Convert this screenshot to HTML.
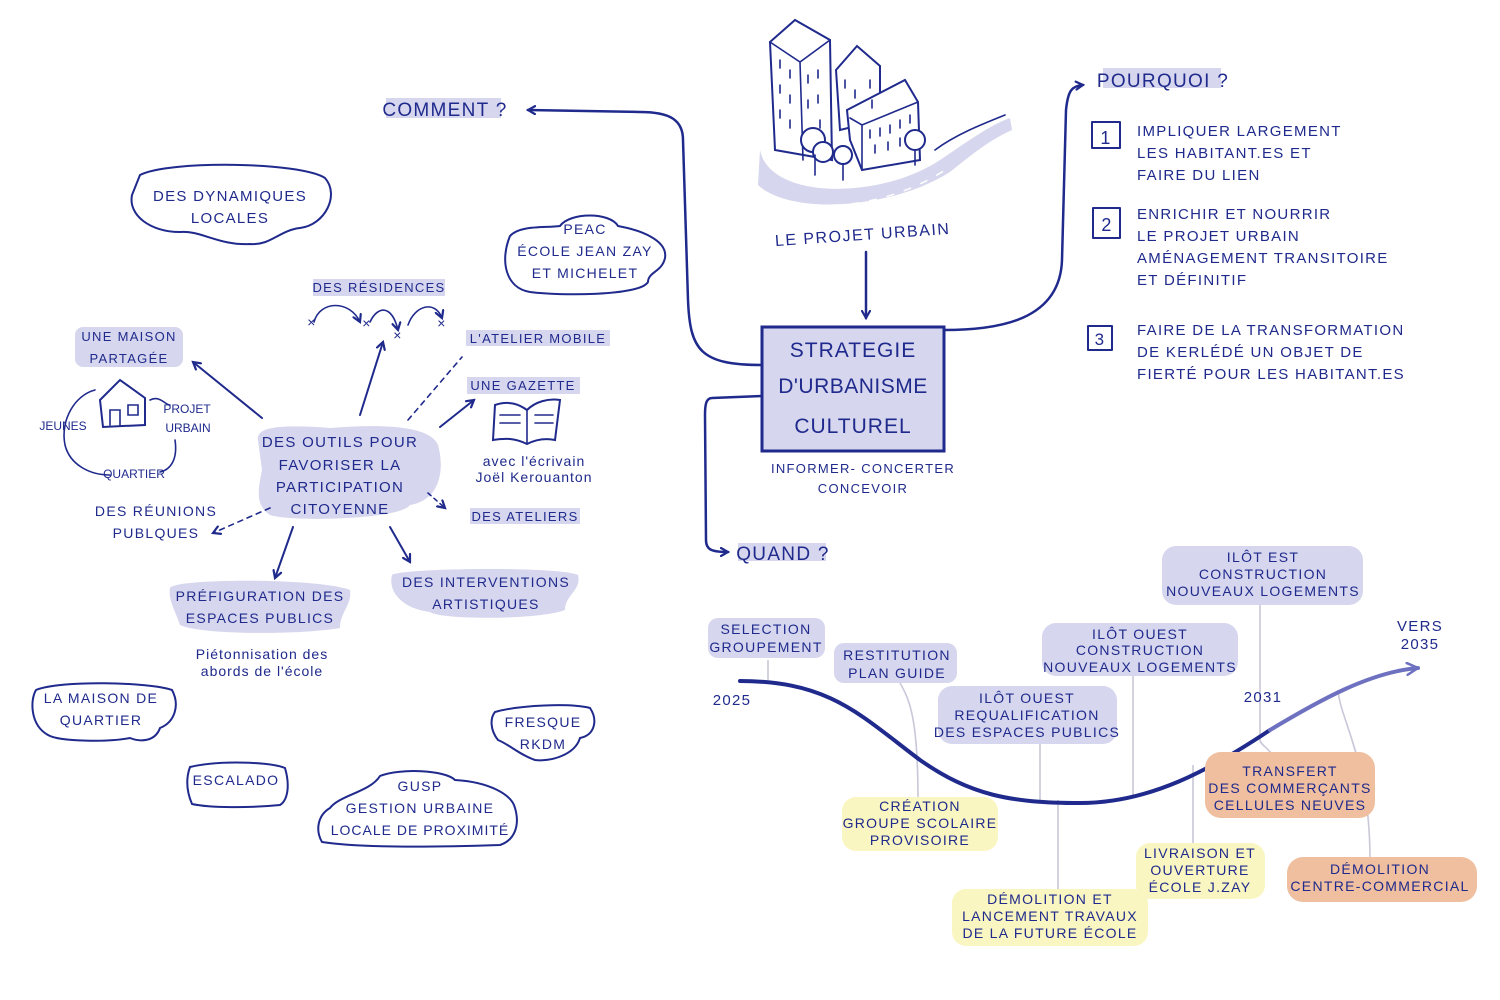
<!DOCTYPE html>
<html><head><meta charset="utf-8"><style>
html,body{margin:0;padding:0;background:#fff;}
svg{display:block}
text{font-family:"Liberation Sans",sans-serif;fill:#1f2a8c;letter-spacing:1.3px;text-anchor:middle;}
.s{font-size:14px}
.m{font-size:15px}
.ln{fill:none;stroke:#1f2a8c;stroke-width:2.5;stroke-linecap:round;stroke-linejoin:round}
.th{fill:none;stroke:#1f2a8c;stroke-width:1.6;stroke-linecap:round}
.lav{fill:#d6d6ee}
.yel{fill:#faf6c2}
.org{fill:#efbf9f}
.gr{stroke:#c8c8d8;stroke-width:1.6;fill:none}
.ob{fill:#fff;stroke:#1f2a8c;stroke-width:2}
</style></head><body>
<svg width="1500" height="1000" viewBox="0 0 1500 1000">
<defs>
<marker id="ah" markerWidth="10" markerHeight="10" refX="8" refY="5" orient="auto" markerUnits="userSpaceOnUse"><path d="M1,1 L8,5 L1,9" fill="none" stroke="#1f2a8c" stroke-width="2.2" stroke-linecap="round"/></marker>
<marker id="ah2" markerWidth="14" markerHeight="14" refX="12" refY="7" orient="auto" markerUnits="userSpaceOnUse"><path d="M1,1 L12,7 L1,13" fill="none" stroke="#6d71c0" stroke-width="2.5" stroke-linecap="round"/></marker>
</defs>

<!-- Buildings & road -->
<path d="M760,150 C770,200 880,200 940,160 C970,140 990,125 1010,118 L1012,130 C990,140 975,152 950,172 C890,210 790,215 758,185 Z" class="lav"/>
<path d="M935,150 C955,135 980,125 1005,115" class="th"/>
<path d="M780,200 C830,215 900,200 945,170" stroke="#fff" stroke-width="1.5" stroke-dasharray="8 10" fill="none"/>
<path d="M770,42 L795,20 L830,40 L832,160 L775,150 Z" class="ob"/>
<path d="M770,42 L800,62 L830,40 M800,62 L803,160" class="th"/>
<path d="M836,70 L857,46 L880,66 L880,120 L840,130 Z" class="ob"/>
<path d="M847,110 L905,80 L918,102 L920,160 L862,170 L850,140 Z" class="ob"/>
<path d="M850,118 L862,125 L918,102 M862,125 L862,170" class="th"/>
<g class="th">
<path d="M780,60 v8 M790,70 v8 M780,85 v8 M790,95 v8 M780,110 v8 M790,120 v8 M808,75 v8 M818,70 v8 M808,100 v8 M818,95 v8 M820,120 v8 M845,80 v8 M855,90 v8 M870,80 v8 M872,100 v8 M870,130 v8 M880,128 v8 M890,125 v8 M900,120 v8 M910,115 v8 M875,145 v8 M888,142 v8 M900,138 v8"/>
</g>
<circle cx="813" cy="140" r="12" class="ob"/><circle cx="823" cy="152" r="10" class="ob"/><circle cx="843" cy="155" r="9" class="ob"/><path d="M815,155 v20 M843,165 v15" class="th"/>
<circle cx="915" cy="140" r="10" class="ob"/><path d="M915,150 v15" class="th"/>
<text x="863" y="240" transform="rotate(-4 863 240)" style="font-size:16px;letter-spacing:1.5px">LE PROJET URBAIN</text>
<path d="M866,252 L866,318" class="ln" marker-end="url(#ah)"/>

<!-- central box -->
<rect x="762" y="327" width="182" height="124" class="lav" stroke="#1f2a8c" stroke-width="3"/>
<text x="853" y="357" style="font-size:21px;letter-spacing:1px">STRATEGIE</text>
<text x="853" y="393" style="font-size:21px;letter-spacing:0.5px">D'URBANISME</text>
<text x="853" y="433" style="font-size:21px;letter-spacing:1px">CULTUREL</text>
<text x="863" y="473" class="s" style="font-size:13px">INFORMER- CONCERTER</text>
<text x="863" y="493" class="s" style="font-size:13px">CONCEVOIR</text>

<!-- COMMENT -->
<rect x="386" y="98" width="115" height="20" class="lav"/>
<text x="445" y="116" style="font-size:19px">COMMENT ?</text>
<path d="M762,365 C700,365 690,350 688,300 L683,140 C683,120 670,112 640,112 L528,110" class="ln" marker-end="url(#ah)"/>

<!-- POURQUOI -->
<rect x="1103" y="68" width="118" height="20" class="lav"/>
<text x="1163" y="87" style="font-size:19px">POURQUOI ?</text>
<path d="M944,330 C1000,330 1060,320 1062,260 L1066,110 C1068,90 1072,86 1083,85" class="ln" marker-end="url(#ah)"/>
<g class="ln" style="stroke-width:2">
<rect x="1092" y="122" width="28" height="26"/><rect x="1093" y="208" width="27" height="30"/><rect x="1088" y="326" width="24" height="24"/>
</g>
<text x="1106" y="144" style="font-size:18px">1</text>
<text x="1107" y="231" style="font-size:18px">2</text>
<text x="1100" y="345" style="font-size:17px">3</text>
<g class="m">
<text x="1137" y="136" style="text-anchor:start">IMPLIQUER LARGEMENT</text>
<text x="1137" y="158" style="text-anchor:start">LES HABITANT.ES ET</text>
<text x="1137" y="180" style="text-anchor:start">FAIRE DU LIEN</text>
<text x="1137" y="219" style="text-anchor:start">ENRICHIR ET NOURRIR</text>
<text x="1137" y="241" style="text-anchor:start">LE PROJET URBAIN</text>
<text x="1137" y="263" style="text-anchor:start">AMÉNAGEMENT TRANSITOIRE</text>
<text x="1137" y="285" style="text-anchor:start">ET DÉFINITIF</text>
<text x="1137" y="335" style="text-anchor:start">FAIRE DE LA TRANSFORMATION</text>
<text x="1137" y="357" style="text-anchor:start">DE KERLÉDÉ UN OBJET DE</text>
<text x="1137" y="379" style="text-anchor:start">FIERTÉ POUR LES HABITANT.ES</text>
</g>

<!-- QUAND -->
<path d="M762,396 L712,398 C706,398 705,405 705,415 L706,540 C706,550 712,552 728,552" class="ln" marker-end="url(#ah)"/>
<rect x="738" y="543" width="88" height="18" class="lav"/>
<text x="783" y="560" style="font-size:19px">QUAND ?</text>

<!-- timeline -->
<g class="gr">
<path d="M768,660 V680"/><path d="M900,683 C910,700 918,720 918,800"/>
<path d="M1040,744 V800"/><path d="M1133,676 V795"/><path d="M1260,605 V740 C1260,745 1270,748 1275,760"/>
<path d="M1058,800 V890"/><path d="M1193,765 V845"/><path d="M1338,690 C1340,720 1370,760 1370,860"/>
</g>
<path d="M740,681 C830,681 860,715 920,760 C970,795 1010,803 1080,803 C1150,803 1210,770 1270,730" class="ln" style="stroke-width:4"/>
<path d="M1270,730 C1320,700 1370,672 1418,668" fill="none" stroke="#6d71c0" stroke-width="4" stroke-linecap="round" marker-end="url(#ah2)"/>
<text x="732" y="705" class="m">2025</text>
<text x="1263" y="702" class="m">2031</text>
<text x="1420" y="631" class="m">VERS</text>
<text x="1420" y="649" class="m">2035</text>

<rect x="708" y="618" width="117" height="40" rx="10" class="lav"/>
<text x="766" y="634" class="s">SELECTION</text><text x="766" y="652" class="s">GROUPEMENT</text>
<rect x="834" y="643" width="123" height="40" rx="10" class="lav"/>
<text x="897" y="660" class="s">RESTITUTION</text><text x="897" y="678" class="s">PLAN GUIDE</text>
<rect x="938" y="686" width="179" height="58" rx="14" class="lav"/>
<text x="1027" y="703" class="s">ILÔT OUEST</text><text x="1027" y="720" class="s">REQUALIFICATION</text><text x="1027" y="737" class="s">DES ESPACES PUBLICS</text>
<rect x="1042" y="623" width="196" height="53" rx="14" class="lav"/>
<text x="1140" y="639" class="s">ILÔT OUEST</text><text x="1140" y="655" class="s">CONSTRUCTION</text><text x="1140" y="672" class="s">NOUVEAUX LOGEMENTS</text>
<rect x="1162" y="546" width="201" height="59" rx="14" class="lav"/>
<text x="1263" y="562" class="s">ILÔT EST</text><text x="1263" y="579" class="s">CONSTRUCTION</text><text x="1263" y="596" class="s">NOUVEAUX LOGEMENTS</text>

<rect x="842" y="797" width="156" height="54" rx="14" class="yel"/>
<text x="920" y="811" class="s">CRÉATION</text><text x="920" y="828" class="s">GROUPE SCOLAIRE</text><text x="920" y="845" class="s">PROVISOIRE</text>
<rect x="952" y="889" width="196" height="57" rx="14" class="yel"/>
<text x="1050" y="904" class="s">DÉMOLITION ET</text><text x="1050" y="921" class="s">LANCEMENT TRAVAUX</text><text x="1050" y="938" class="s">DE LA FUTURE ÉCOLE</text>
<rect x="1136" y="843" width="129" height="56" rx="14" class="yel"/>
<text x="1200" y="858" class="s">LIVRAISON ET</text><text x="1200" y="875" class="s">OUVERTURE</text><text x="1200" y="892" class="s">ÉCOLE J.ZAY</text>
<rect x="1205" y="752" width="170" height="66" rx="16" class="org"/>
<text x="1290" y="776" class="s">TRANSFERT</text><text x="1290" y="793" class="s">DES COMMERÇANTS</text><text x="1290" y="810" class="s">CELLULES NEUVES</text>
<rect x="1287" y="857" width="190" height="45" rx="16" class="org"/>
<text x="1380" y="874" class="s">DÉMOLITION</text><text x="1380" y="891" class="s">CENTRE-COMMERCIAL</text>

<!-- LEFT SIDE -->
<path d="M140,175 C170,160 300,162 325,178 C340,195 325,225 300,228 C280,230 270,246 250,244 C220,246 200,230 180,232 C150,232 128,215 132,195 Z" class="ob"/>
<text x="230" y="201" class="m">DES DYNAMIQUES</text><text x="230" y="223" class="m">LOCALES</text>

<path d="M510,236 C520,225 545,228 560,226 C570,212 610,212 618,226 C640,230 668,240 665,258 C662,272 648,272 648,282 C640,296 560,296 530,292 C505,288 500,260 510,236 Z" class="ob"/>
<text x="585" y="234" class="s">PEAC</text><text x="585" y="256" class="s">ÉCOLE JEAN ZAY</text><text x="585" y="278" class="s">ET MICHELET</text>

<rect x="313" y="279" width="132" height="17" class="lav"/>
<text x="379" y="292" class="s" style="font-size:13px">DES RÉSIDENCES</text>
<path d="M314,322 C320,300 350,300 360,322" class="th" marker-end="url(#ah)"/>
<path d="M370,322 C378,305 392,305 398,330" class="th" marker-end="url(#ah)"/>
<path d="M408,325 C415,305 435,300 442,318" class="th" marker-end="url(#ah)"/>
<text x="312" y="327" class="s">×</text><text x="367" y="328" class="s">×</text><text x="398" y="340" class="s">×</text><text x="442" y="328" class="s">×</text>

<rect x="466" y="330" width="144" height="16" class="lav"/>
<text x="538" y="343" class="s" style="font-size:13px">L'ATELIER MOBILE</text>
<rect x="467" y="377" width="113" height="17" class="lav"/>
<text x="523" y="390" class="s" style="font-size:13px">UNE GAZETTE</text>
<path d="M495,405 C510,400 520,405 527,410 C535,402 548,398 560,400 L555,440 C545,438 535,440 527,444 C515,438 505,438 493,440 Z" class="ob"/>
<path d="M527,410 V444 M500,415 h20 M500,423 h20 M535,415 h18 M535,423 h18" class="th"/>
<text x="534" y="466" class="s" style="letter-spacing:1px">avec l'écrivain</text>
<text x="534" y="482" class="s" style="letter-spacing:1px">Joël Kerouanton</text>
<rect x="470" y="508" width="110" height="16" class="lav"/>
<text x="525" y="521" class="s" style="font-size:13px">DES ATELIERS</text>

<path d="M258,440 C255,425 290,425 330,428 C380,424 430,425 438,445 C445,470 440,500 410,505 C400,520 290,522 270,515 C255,505 258,490 262,470 Z" class="lav"/>
<text x="340" y="447" class="m">DES OUTILS POUR</text>
<text x="340" y="470" class="m">FAVORISER LA</text>
<text x="340" y="492" class="m">PARTICIPATION</text>
<text x="340" y="514" class="m">CITOYENNE</text>

<path d="M360,415 L383,342" class="ln" style="stroke-width:2" marker-end="url(#ah)"/>
<path d="M408,420 L462,357" class="th" stroke-dasharray="5 5"/>
<path d="M440,427 L474,400" class="ln" style="stroke-width:2" marker-end="url(#ah)"/>
<path d="M428,493 L445,508" class="th" stroke-dasharray="4 4" marker-end="url(#ah)"/>
<path d="M262,418 L193,362" class="ln" style="stroke-width:2" marker-end="url(#ah)"/>
<path d="M270,508 L213,533" class="th" stroke-dasharray="5 5" marker-end="url(#ah)"/>
<path d="M293,527 L275,578" class="ln" style="stroke-width:2" marker-end="url(#ah)"/>
<path d="M390,527 L410,562" class="ln" style="stroke-width:2" marker-end="url(#ah)"/>

<rect x="75" y="327" width="108" height="40" rx="8" class="lav"/>
<text x="129" y="341" class="s" style="font-size:13px">UNE MAISON</text><text x="129" y="363" class="s" style="font-size:13px">PARTAGÉE</text>
<path d="M100,400 L120,380 L145,398 L145,425 L103,427 Z" class="ob"/>
<path d="M110,425 v-15 h10 v15 M128,405 h10 v10 h-10z" class="th"/>
<path d="M95,390 C75,395 60,420 65,445 C70,465 90,475 110,475" class="th"/>
<path d="M150,400 C160,395 165,405 170,405 M175,440 C178,460 170,470 160,472" class="th"/>
<text x="63" y="430" style="font-size:12px;letter-spacing:0">JEUNES</text>
<text x="187" y="413" style="font-size:12px;letter-spacing:0">PROJET</text>
<text x="188" y="432" style="font-size:12px;letter-spacing:0">URBAIN</text>
<text x="134" y="478" style="font-size:12px;letter-spacing:0">QUARTIER</text>

<text x="156" y="516" class="s">DES RÉUNIONS</text>
<text x="156" y="538" class="s">PUBLQUES</text>

<path d="M170,588 C175,578 320,578 350,590 C352,605 340,612 340,628 C300,635 200,635 180,625 C175,610 168,600 170,588 Z" class="lav"/>
<text x="260" y="601" class="s">PRÉFIGURATION DES</text><text x="260" y="623" class="s">ESPACES PUBLICS</text>
<text x="262" y="659" class="s" style="letter-spacing:1px">Piétonnisation des</text>
<text x="262" y="676" class="s" style="letter-spacing:1px">abords de l'école</text>

<path d="M392,575 C400,568 560,566 578,575 C582,590 565,595 565,610 C540,620 440,620 430,612 C400,608 388,590 392,575 Z" class="lav"/>
<text x="486" y="587" class="s">DES INTERVENTIONS</text><text x="486" y="609" class="s">ARTISTIQUES</text>

<path d="M36,690 C60,680 150,682 172,690 C180,705 175,722 160,728 C155,742 140,742 130,738 C110,742 60,742 48,735 C30,725 30,700 36,690 Z" class="ob"/>
<text x="101" y="703" class="s">LA MAISON DE</text><text x="101" y="725" class="s">QUARTIER</text>

<path d="M495,712 C520,705 570,703 590,708 C598,720 595,735 580,738 C575,755 550,762 535,760 C520,755 510,745 498,740 C490,730 490,718 495,712 Z" class="ob"/>
<text x="543" y="727" class="s">FRESQUE</text><text x="543" y="749" class="s">RKDM</text>

<path d="M190,767 C220,760 270,762 285,768 C290,785 288,800 280,805 C250,808 210,808 192,804 C186,790 186,778 190,767 Z" class="ob"/>
<text x="236" y="785" class="s">ESCALADO</text>

<path d="M380,776 C400,768 445,770 455,780 C490,782 512,795 515,808 C520,825 515,840 500,845 C440,847 360,848 322,842 C315,830 318,815 330,808 C340,795 370,792 380,776 Z" class="ob"/>
<text x="420" y="791" class="s">GUSP</text><text x="420" y="813" class="s">GESTION URBAINE</text><text x="420" y="835" class="s" style="letter-spacing:1px">LOCALE DE PROXIMITÉ</text>
</svg>
</body></html>
